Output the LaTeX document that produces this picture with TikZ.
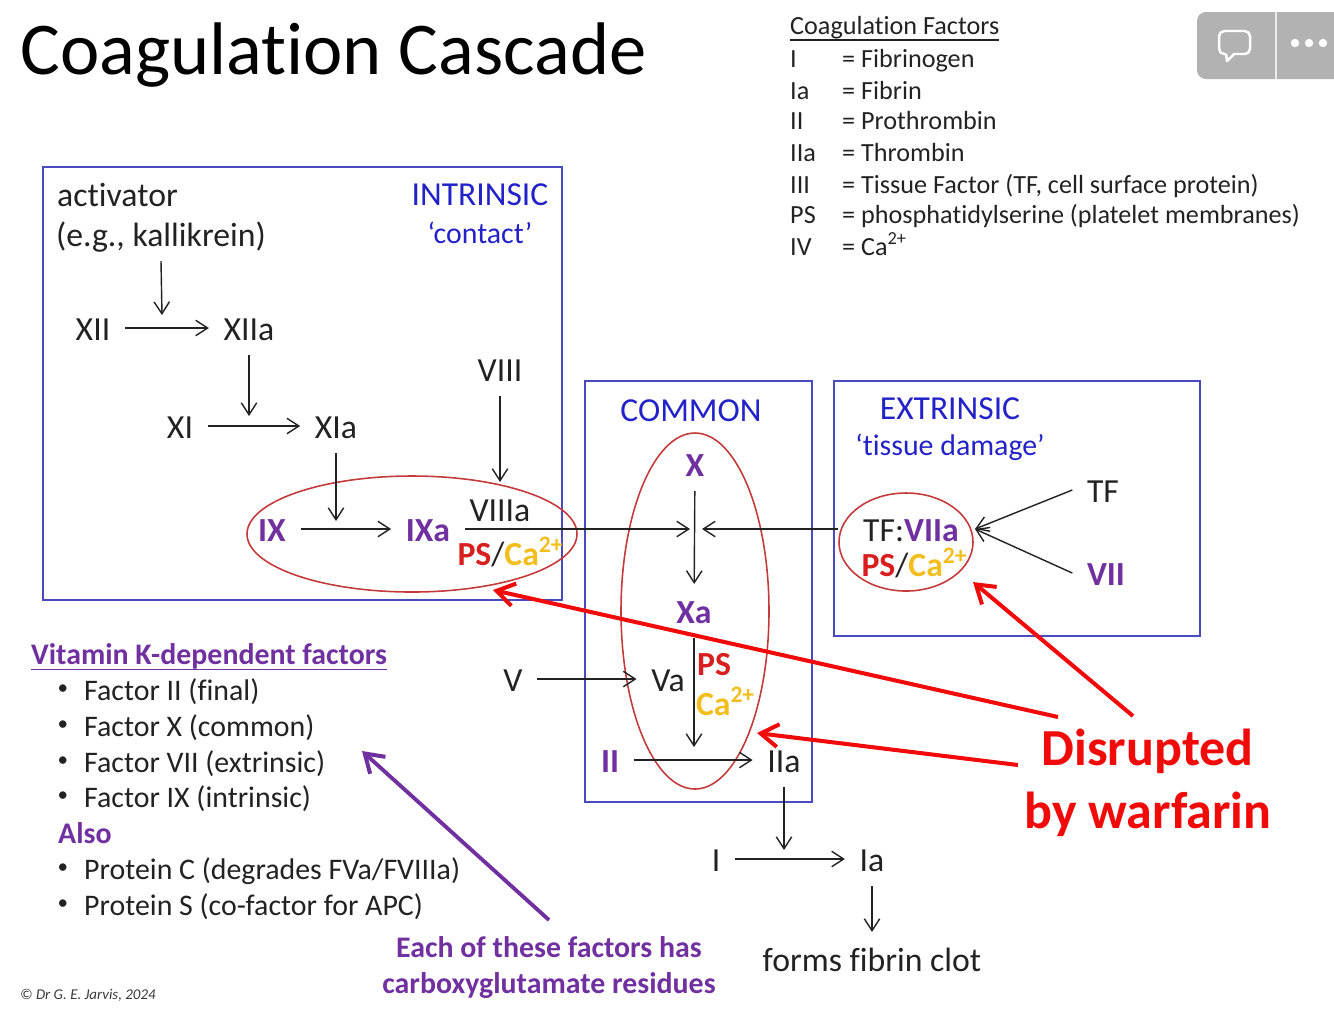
\documentclass[tikz,border=0pt]{standalone}
\usepackage{fontspec}
\setmainfont{Carlito}[Ligatures=NoCommon]
\usetikzlibrary{arrows.meta,calc,positioning,shapes.geometric}
\definecolor{boxblue}{HTML}{4A4AC0}
\definecolor{headblue}{HTML}{2222C8}
\definecolor{ringred}{HTML}{C43A3A}
\definecolor{factorpurple}{HTML}{7030A0}
\definecolor{warnred}{HTML}{F00A0A}
\definecolor{psred}{HTML}{D81E1E}
\definecolor{cagold}{HTML}{F2BE1E}
\definecolor{txt}{HTML}{222222}
\definecolor{widget}{HTML}{B2B2B2}
\newcommand{\psca}{\textcolor{psred}{\textbf{PS}}/\textcolor{cagold}{\textbf{Ca\textsuperscript{2+}}}}
\tikzset{
  label/.style={font=\fontsize{9.6}{10}\selectfont, text=txt, text height=8pt, text depth=1pt, inner xsep=4pt, inner ysep=3pt},
  factor/.style={label, text=factorpurple, font=\fontsize{9.6}{10}\selectfont\bfseries},
  legend/.style={font=\fontsize{7.45}{8}\selectfont, text=txt, anchor=west, inner sep=0pt, text height=6pt, text depth=1.5pt},
  listitem/.style={font=\fontsize{8.5}{9}\selectfont, text=txt, anchor=west, inner sep=0pt, text height=6.5pt, text depth=1.5pt},
  bulletmark/.style={font=\fontsize{6}{7}\selectfont, text=txt, inner sep=0pt},
  head/.style={font=\fontsize{9.55}{10}\selectfont, text=headblue, inner sep=0pt},
  subhead/.style={head, font=\fontsize{8.5}{10}\selectfont},
  purplehead/.style={font=\fontsize{8.5}{10}\selectfont\bfseries, text=factorpurple, inner sep=0pt, text height=6.5pt, text depth=1.5pt},
  warn/.style={font=\fontsize{14.8}{15}\selectfont\bfseries, text=warnred, inner sep=0pt},
  regionbox/.style={draw=boxblue, line width=0.45pt},
  ring/.style={draw=ringred, ellipse, line width=0.45pt, inner sep=0pt, minimum width=#1},
  arr/.style={-{Straight Barb[length=3.4pt,width=4.4pt]}, draw=txt, line width=0.4pt},
  warnarr/.style={-{Straight Barb[length=5pt,width=6.5pt,line width=1.15pt]}, draw=warnred, line width=1.15pt},
  vitarr/.style={-{Straight Barb[length=5pt,width=6.5pt,line width=1.15pt]}, draw=factorpurple, line width=1.1pt},
}
\begin{document}
\begin{tikzpicture}
  \useasboundingbox (0,0) rectangle (13.34,-10.12);

  % Title
  \node[anchor=west, inner sep=0pt, font=\fontsize{21.2}{24}\selectfont] (title) at (0.2,-0.555) {Coagulation Cascade};

  % Phone overlay
  \fill[widget, rounded corners=2.5pt] (11.97,-0.12) rectangle (13.7,-0.79);
  \draw[white!75!widget, line width=0.4pt] (12.76,-0.12) -- (12.76,-0.79);
  \draw[white, line width=0.7pt, rounded corners=1.5pt, line join=round] (12.19,-0.31) rectangle (12.5,-0.54);
  \fill[widget] (12.26,-0.53) rectangle (12.33,-0.56);
  \draw[white, line width=0.7pt, line join=round] (12.26,-0.54) -- (12.27,-0.61) -- (12.34,-0.54);
  \fill[white] (12.95,-0.43) circle (0.042) (13.09,-0.43) circle (0.042) (13.23,-0.43) circle (0.042);

  % Factor legend
  \node[legend] (lhead) at (7.895,-0.27) {\underline{\smash{Coagulation Factors}}};
  \node[legend] (l1) at (7.895,-0.595) {I};
  \node[legend] (l2) at (7.895,-0.915) {Ia};
  \node[legend] (l3) at (7.895,-1.215) {II};
  \node[legend] (l4) at (7.895,-1.535) {IIa};
  \node[legend] (l5) at (7.895,-1.855) {III};
  \node[legend] (l6) at (7.895,-2.155) {PS};
  \node[legend] (l7) at (7.895,-2.475) {IV};
  \node[legend] (r1) at (8.415,-0.595) {= Fibrinogen};
  \node[legend] (r2) at (8.415,-0.915) {= Fibrin};
  \node[legend] (r3) at (8.415,-1.215) {= Prothrombin};
  \node[legend] (r4) at (8.415,-1.535) {= Thrombin};
  \node[legend] (r5) at (8.415,-1.855) {= Tissue Factor (TF, cell surface protein)};
  \node[legend] (r6) at (8.415,-2.155) {= phosphatidylserine (platelet membranes)};
  \node[legend] (r7) at (8.415,-2.475) {= Ca\textsuperscript{2+}};

  % Region boxes
  \draw[regionbox] (0.43,-1.67) rectangle (5.62,-6.0);
  \draw[regionbox] (5.85,-3.81) rectangle (8.12,-8.02);
  \draw[regionbox] (8.34,-3.81) rectangle (12.0,-6.36);

  % Rings
  \node[ring=3.3cm, minimum height=1.16cm] (ringix) at (4.12,-5.34) {};
  \node[ring=1.48cm, minimum height=3.56cm] (ringx) at (6.95,-6.11) {};
  \node[ring=1.34cm, minimum height=0.98cm] (ringvii) at (9.06,-5.42) {};

  % Intrinsic
  \node[label, anchor=west, inner xsep=0pt] (act) at (0.565,-1.94) {activator};
  \node[label] (kall) at (1.61,-2.34) {(e.g., kallikrein)};
  \node[head] (intr) at (4.8,-1.95) {INTRINSIC};
  \node[subhead] (contact) at (4.8,-2.33) {‘contact’};
  \node[label] (xii) at (0.93,-3.28) {XII};
  \node[label] (xiia) at (2.49,-3.28) {XIIa};
  \node[label] (xi) at (1.8,-4.26) {XI};
  \node[label] (xia) at (3.36,-4.26) {XIa};
  \node[label] (viii) at (5.0,-3.69) {VIII};
  \node[factor] (ix) at (2.72,-5.29) {IX};
  \node[factor] (ixa) at (4.28,-5.29) {IXa};
  \node[label] (viiia) at (5.0,-5.09) {VIIIa};
  \node[label, inner sep=0pt] (psa) at (5.11,-5.53) {\psca};

  % Common
  \node[head] (comm) at (6.91,-4.105) {COMMON};
  \node[factor] (xf) at (6.95,-4.64) {X};
  \node[factor] (xaf) at (6.94,-6.11) {Xa};
  \node[label] (v) at (5.13,-6.79) {V};
  \node[label] (va) at (6.68,-6.79) {Va};
  \node[factor, text=psred, inner sep=0pt] (psb) at (7.14,-6.63) {PS};
  \node[factor, text=cagold, inner sep=0pt] (cab) at (7.26,-7.03) {Ca\textsuperscript{2+}};
  \node[factor] (ii) at (6.1,-7.6) {II};
  \node[label] (iia) at (7.84,-7.6) {IIa};
  \node[label] (i) at (7.16,-8.59) {I};
  \node[label] (ia) at (8.72,-8.59) {Ia};
  \node[label] (clot) at (8.72,-9.59) {forms fibrin clot};

  % Extrinsic
  \node[head] (extr) at (9.5,-4.09) {EXTRINSIC};
  \node[subhead] (damage) at (9.5,-4.47) {‘tissue damage’};
  \node[label, inner sep=0pt] (tfvii) at (9.11,-5.29) {TF:\textcolor{factorpurple}{\textbf{VIIa}}};
  \node[label, inner sep=0pt] (psc) at (9.15,-5.64) {\psca};
  \node[label] (tf) at (11.03,-4.9) {TF};
  \node[factor] (vii) at (11.06,-5.73) {VII};

  % Free arrow ends
  \coordinate (xiiend) at (1.62,-3.15);
  \coordinate (xiend) at (2.49,-4.16);
  \coordinate (ixend) at (3.36,-5.21);
  \coordinate (joinl) at (6.9,-5.29);
  \coordinate (joinr) at (7.02,-5.29);
  \coordinate (tfend) at (9.75,-5.29);
  \coordinate (xaend) at (6.94,-7.47);
  \coordinate (iend) at (7.84,-8.5);

  % Black arrows
  \draw[arr] (kall.south) -- (xiiend);
  \draw[arr] (xii) -- (xiia);
  \draw[arr] (xiia.south) -- (xiend);
  \draw[arr] (xi) -- (xia);
  \draw[arr] (xia.south) -- (ixend);
  \draw[arr] (viii) -- (viiia);
  \draw[arr] (ix) -- (ixa);
  \draw[arr] (ixa.east |- joinl) -- (joinl);
  \draw[arr] (ringvii.west |- joinr) -- (joinr);
  \draw[arr] (xf) -- (xaf);
  \draw[arr] (xaf.south) -- (xaend);
  \draw[arr] (v) -- (va);
  \draw[arr] (ii) -- (iia);
  \draw[arr] (iia.south) -- (iend);
  \draw[arr] (i) -- (ia);
  \draw[arr] (ia) -- (clot);
  \draw[arr] (tf.west) -- (tfend);
  \draw[arr] (vii.west) -- (tfend);

  % Vitamin K list
  \node[purplehead, anchor=west] (vitk) at (0.305,-6.56) {\underline{\smash{Vitamin K-dependent factors}}};
  \node[bulletmark] (b1) at (0.63,-6.9) {•};
  \node[bulletmark] (b2) at (0.63,-7.26) {•};
  \node[bulletmark] (b3) at (0.63,-7.62) {•};
  \node[bulletmark] (b4) at (0.63,-7.97) {•};
  \node[bulletmark] (b5) at (0.63,-8.69) {•};
  \node[bulletmark] (b6) at (0.63,-9.05) {•};
  \node[listitem] (t1) at (0.835,-6.92) {Factor II (final)};
  \node[listitem] (t2) at (0.835,-7.28) {Factor X (common)};
  \node[listitem] (t3) at (0.835,-7.64) {Factor VII (extrinsic)};
  \node[listitem] (t4) at (0.835,-7.99) {Factor IX (intrinsic)};
  \node[purplehead, anchor=west] (also) at (0.575,-8.35) {Also};
  \node[listitem] (t5) at (0.835,-8.71) {Protein C (degrades FVa/FVIIIa)};
  \node[listitem] (t6) at (0.835,-9.07) {Protein S (co-factor for APC)};

  % Notes
  \node[purplehead] (each) at (5.49,-9.485) {Each of these factors has};
  \node[purplehead] (carb) at (5.49,-9.85) {carboxyglutamate residues};
  \node[anchor=west, inner sep=0pt, text=txt!90!white, font=\fontsize{4.25}{5}\selectfont\itshape] (copy) at (0.195,-9.95) {© Dr G. E. Jarvis, 2024};
  \node[warn] (dis) at (11.475,-7.51) {Disrupted};
  \node[warn] (war) at (11.48,-8.14) {by warfarin};

  % Thick arrows
  \coordinate (vitstart) at (5.49,-9.2);
  \coordinate (vitend) at (3.62,-7.51);
  \coordinate (warna) at (10.58,-7.17);
  \coordinate (warnb) at (11.33,-7.16);
  \coordinate (warnc) at (10.18,-7.65);
  \coordinate (enda) at (4.93,-5.9);
  \coordinate (endb) at (9.73,-5.82);
  \coordinate (endc) at (7.57,-7.33);
  \draw[vitarr] (vitstart) -- (vitend);
  \draw[warnarr] (warna) -- (enda);
  \draw[warnarr] (warnb) -- (endb);
  \draw[warnarr] (warnc) -- (endc);
\end{tikzpicture}
\end{document}
